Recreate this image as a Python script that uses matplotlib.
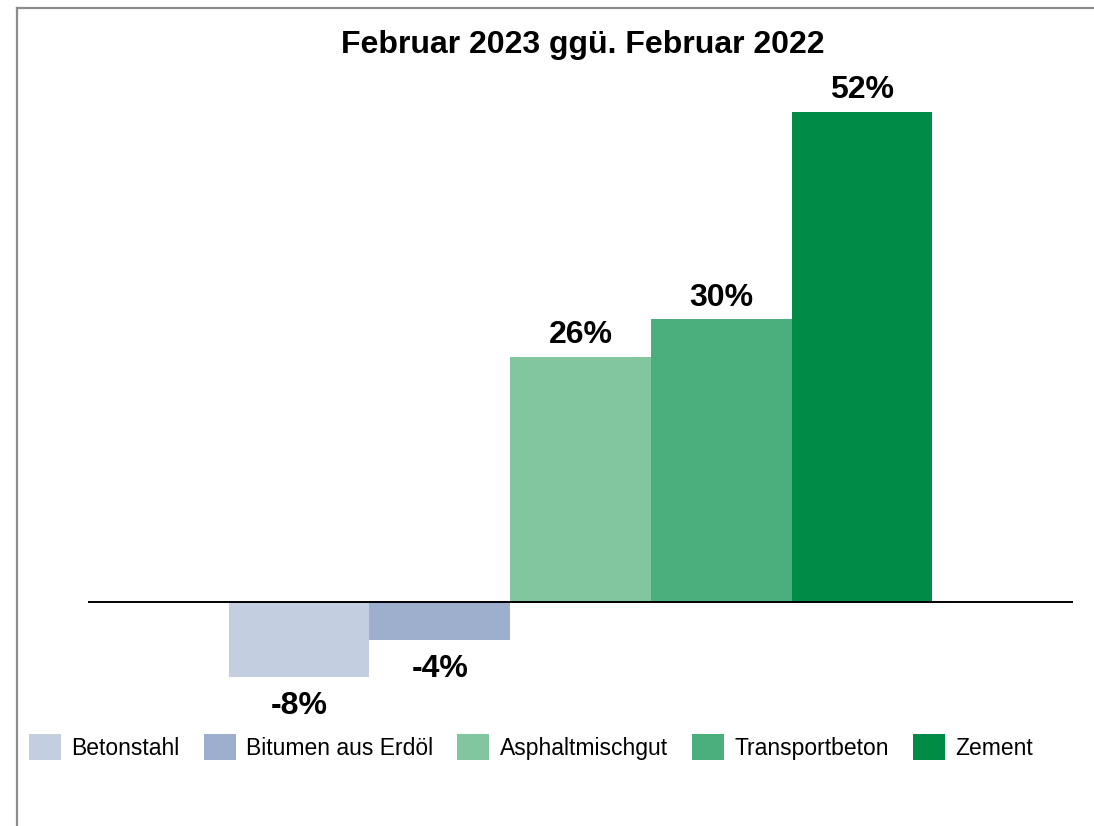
import matplotlib.pyplot as plt
from matplotlib.lines import Line2D

# data
materials = ['Betonstahl', 'Bitumen aus Erdöl', 'Asphaltmischgut', 'Transportbeton', 'Zement']
change = [-8, -4, 26, 30, 52]
colors = ['#C3CEE0', '#9DAFCD', '#82C6A0', '#4BAF7D', '#008C46']
title = 'Februar 2023 ggü. Februar 2022'

plt.rcParams['font.family'] = ['Liberation Sans', 'DejaVu Sans']

W, H = 1094, 826
fig = plt.figure(figsize=(W / 100, H / 100), dpi=100)
ax = fig.add_axes([88 / W, (H - 715) / H, (1073 - 88) / W, (715 - 84) / H])

x = [1.5 + i for i in range(len(change))]
for xi, v, c, name in zip(x, change, colors, materials):
    ax.bar(xi, v, width=1.0, color=c, label=name)
    if v >= 0:
        ax.annotate(f'{v}%', (xi, v), xytext=(0, 5), textcoords='offset points',
                    ha='center', va='bottom', fontsize=23, fontweight='bold')
    else:
        ax.annotate(f'{v}%', (xi, v), xytext=(0, -10), textcoords='offset points',
                    ha='center', va='top', fontsize=23, fontweight='bold')

ax.axhline(0, color='black', lw=1.4)
ax.set_xlim(0, 7)
ax.set_ylim(-12, 55)
ax.axis('off')

fig.text(583 / W, 1 - 45 / H, title, ha='center', va='center', fontsize=23, fontweight='bold')

fig.legend(loc='center', bbox_to_anchor=(531 / W, 1 - 747 / H), ncol=5, frameon=False,
           fontsize=16.5, handlelength=1.4, handleheight=1.4, handletextpad=0.45,
           columnspacing=1.05, borderpad=0, borderaxespad=0)

# chart border (top and left edges visible)
fig.add_artist(Line2D([17 / W, 1], [1 - 8 / H, 1 - 8 / H], transform=fig.transFigure, color='#8c8c8c', lw=1.6))
fig.add_artist(Line2D([17 / W, 17 / W], [0, 1 - 8 / H], transform=fig.transFigure, color='#8c8c8c', lw=1.6))

fig.savefig('out.png', dpi=100, facecolor='white')
